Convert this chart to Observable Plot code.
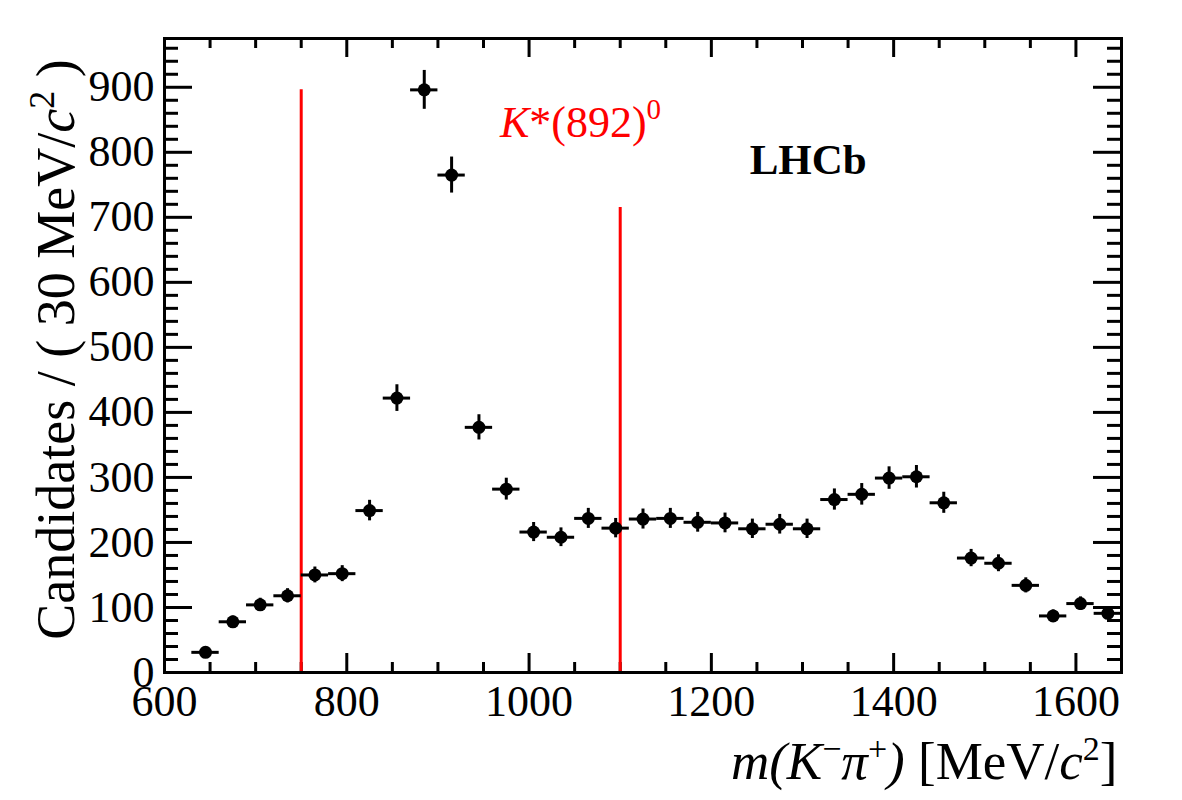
<!DOCTYPE html>
<html><head><meta charset="utf-8">
<script src="https://cdn.jsdelivr.net/npm/d3@7"></script>
<script src="https://cdn.jsdelivr.net/npm/@observablehq/plot@0.6"></script>
<style>
body{margin:0;background:#fff;color:#000}
svg text{font-family:"Liberation Serif","Times New Roman",serif !important}
</style>
</head><body><div id="chart"></div>
<script>
// ---- data ----
const massCenters = [645,675,705,735,765,795,825,855,885,915,945,975,1005,1035,1065,1095,1125,1155,1185,1215,1245,1275,1305,1335,1365,1395,1425,1455,1485,1515,1545,1575,1605,1635];
const candidates  = [31,78,104,118,150,152,249,422,896,765,377,282,216,208,237,222,236,237,231,230,221,228,221,266,274,299,301,261,176,168,134,87,106,91];
const errors      = [5.6,8.8,10.2,10.9,12.2,12.3,15.8,20.5,29.9,27.7,19.4,16.8,14.7,14.4,15.4,14.9,15.4,15.4,15.2,15.2,14.9,15.1,14.9,16.3,16.6,17.3,17.3,16.2,13.3,13.0,11.6,9.3,10.3,9.5];
const binWidth = 30;
const xTickLabels = [600,800,1000,1200,1400,1600];
const yTickLabels = [0,100,200,300,400,500,600,700,800,900];
const windowMass = [750,1100];
const windowTop  = [896,715];
const annotationText = ["K*(892)0","LHCb"];
const annotationMass = [968,1242];
const annotationCount = [823,767];

// ---- layout ----
const W = 1182, H = 800, mL = 164, mR = 61, mT = 38, mB = 128;
const innerW = W - mL - mR, innerH = H - mT - mB;
const SERIF = "'Liberation Serif', 'Times New Roman', serif";

const points = massCenters.map((m, i) => ({
  m, v: candidates[i],
  lo: m - binWidth / 2, hi: m + binWidth / 2,
  ylo: candidates[i] - errors[i], yhi: candidates[i] + errors[i]
}));
const windows = windowMass.map((m, i) => ({m, top: windowTop[i]}));
const redLabel = [{t: annotationText[0], x: annotationMass[0], y: annotationCount[0]}];
const lhcbLabel = [{t: annotationText[1], x: annotationMass[1], y: annotationCount[1]}];

const xMajor = d3.range(600, 1651, 200);
const xMinor = d3.range(600, 1651, 50).filter(d => d % 200 !== 0);
const yMajor = d3.range(0, 976, 100);
const yMinor = d3.range(0, 976, 20).filter(d => d % 100 !== 0);

const xMajLen = 19, xMinLen = 10, yMajLen = 28, yMinLen = 14;

const Y_LABEL = "Candidates / ( 30 MeV/c2 )";
const X_LABEL = "m(K-pi+) [MeV/c2]";

const plot = Plot.plot({
  width: W, height: H,
  marginLeft: mL, marginRight: mR, marginTop: mT, marginBottom: mB,
  style: {fontFamily: SERIF, background: "white", color: "black", overflow: "visible"},
  x: {domain: [600, 1650]},
  y: {domain: [0, 975]},
  marks: [
    Plot.axisX({ticks: xTickLabels, tickFormat: d => String(d), tickSize: 0, tickPadding: 12, fontSize: 44, fontFamily: SERIF, label: null}),
    Plot.axisY({ticks: yTickLabels, tickFormat: d => String(d), tickSize: 0, tickPadding: 10, fontSize: 44, fontFamily: SERIF, label: null}),
    // inward ticks, ROOT style, on all four sides
    Plot.ruleX(xMajor, {x: d => d, insetTop: innerH - xMajLen, strokeWidth: 3}),
    Plot.ruleX(xMinor, {x: d => d, insetTop: innerH - xMinLen, strokeWidth: 3}),
    Plot.ruleX(xMajor, {x: d => d, insetBottom: innerH - xMajLen, strokeWidth: 3}),
    Plot.ruleX(xMinor, {x: d => d, insetBottom: innerH - xMinLen, strokeWidth: 3}),
    Plot.ruleY(yMajor, {y: d => d, insetRight: innerW - yMajLen, strokeWidth: 3}),
    Plot.ruleY(yMinor, {y: d => d, insetRight: innerW - yMinLen, strokeWidth: 3}),
    Plot.ruleY(yMajor, {y: d => d, insetLeft: innerW - yMajLen, strokeWidth: 3}),
    Plot.ruleY(yMinor, {y: d => d, insetLeft: innerW - yMinLen, strokeWidth: 3}),
    // mass window lines
    Plot.ruleX(windows, {x: "m", y1: 0, y2: "top", stroke: "#ff0000", strokeWidth: 3}),
    // data with error bars
    Plot.ruleY(points, {y: "v", x1: "lo", x2: "hi", strokeWidth: 3}),
    Plot.ruleX(points, {x: "m", y1: "ylo", y2: "yhi", strokeWidth: 3}),
    Plot.dot(points, {x: "m", y: "v", r: 6.5, fill: "black", stroke: "none"}),
    Plot.frame({strokeWidth: 3}),
    // annotations
    Plot.text(redLabel, {x: "x", y: "y", text: "t", fill: "#ff0000", fontSize: 44, fontFamily: SERIF, textAnchor: "start", lineAnchor: "bottom"}),
    Plot.text(lhcbLabel, {x: "x", y: "y", text: "t", fill: "black", fontSize: 43, fontFamily: SERIF, fontWeight: "bold", textAnchor: "start", lineAnchor: "bottom"}),
    // axis titles
    Plot.text([Y_LABEL], {text: d => d, frameAnchor: "left", dx: -91, dy: -6, rotate: -90, fontSize: 54, fontFamily: SERIF, textAnchor: "middle", lineAnchor: "bottom"}),
    Plot.text([X_LABEL], {text: d => d, frameAnchor: "bottom-right", dx: -4, dy: 106, fontSize: 53, fontFamily: SERIF, textAnchor: "end", lineAnchor: "bottom"})
  ]
});

// rich text (italics, superscripts) for labels
const rich = {
  [Y_LABEL]: 'Candidates / ( 30 MeV/<tspan font-style="italic">c</tspan><tspan dy="-20" font-size="36">2</tspan><tspan dy="20"> )</tspan>',
  [X_LABEL]: '<tspan font-style="italic">m(K</tspan><tspan dy="-19" font-size="34">\u2212</tspan><tspan dy="19" font-style="italic">\u03c0</tspan><tspan dy="-19" font-size="34">+</tspan><tspan dy="19" font-style="italic">)</tspan> [MeV/<tspan font-style="italic">c</tspan><tspan dy="-19" font-size="34">2</tspan><tspan dy="19">]</tspan>',
  [annotationText[0]]: '<tspan font-style="italic">K</tspan>*(892)<tspan dy="-18" font-size="29">0</tspan>'
};
plot.querySelectorAll("text").forEach(t => {
  const k = t.textContent;
  if (rich[k]) t.innerHTML = rich[k];
});

document.getElementById("chart").appendChild(plot);
</script>
</body></html>
